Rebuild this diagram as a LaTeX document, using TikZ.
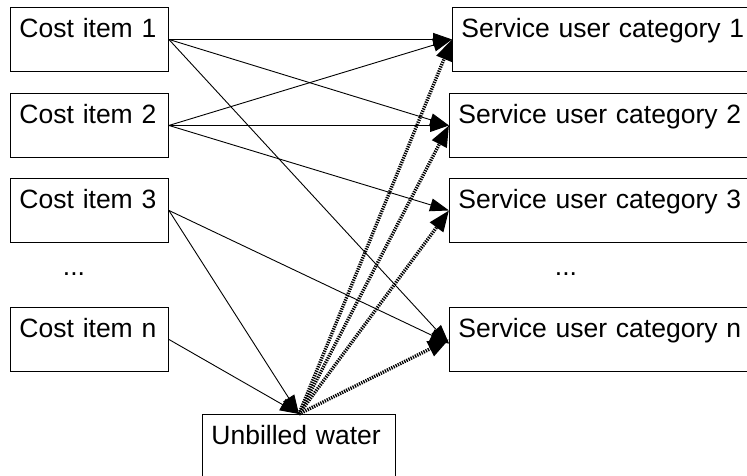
\documentclass[tikz,border=0pt]{standalone}
\usepackage{fontspec}
\setmainfont{Liberation Sans}
\usepackage{tikz}
\usetikzlibrary{arrows.meta}
\tikzset{
    itembox/.style={
        draw=black,
        line width=0.9pt,
        rectangle,
        anchor=north west,
        align=left,
        inner xsep=9pt,
        inner ysep=11pt,
        text height=19pt,
        text depth=23pt,
        font=\fontsize{26.5}{30}\selectfont
    },
    costbox/.style={
        itembox,
        text width=140pt
    },
    userbox/.style={
        itembox,
        text width=300pt
    },
    waterbox/.style={
        itembox,
        text width=175pt
    },
    gap/.style={
        inner sep=0pt,
        font=\fontsize{26.5}{30}\selectfont
    },
    costlink/.style={
        line width=0.9pt,
        -{Triangle[length=19pt,width=13pt]}
    },
    waterlink/.style={
        line width=3.4pt,
        dash pattern=on 1.3pt off 1.1pt,
        -{Triangle[length=21pt,width=16pt]}
    }
}

\begin{document}
\begin{tikzpicture}[x=1pt,y=-1pt]
            % Help lines :
            % \draw [help lines] (0,0) grid (747,476);
            \useasboundingbox (0,0) rectangle (747,476);

            % Cost items
            \node (cost1) [costbox] at (10,7) {Cost item 1};
            \node (cost2) [costbox] at (10,93) {Cost item 2};
            \node (cost3) [costbox] at (10,178) {Cost item 3};
            \node (dotsL) [gap] at (74,274) {...};
            \node (costn) [costbox] at (10,307) {Cost item n};

            % Service user categories
            \node (user1) [userbox] at (452,7) {Service user category 1};
            \node (user2) [userbox] at (449,93) {Service user category 2};
            \node (user3) [userbox] at (449,178) {Service user category 3};
            \node (dotsR) [gap] at (566,274) {...};
            \node (usern) [userbox] at (449,307) {Service user category n};

            % Unbilled water
            \node (water) [waterbox] at (202,414) {Unbilled water};

            % Edges
            \path [costlink]
                % Out of cost1
                (cost1.east) edge (user1.west)
                (cost1.east) edge (user2.west)
                (cost1.east) edge ([yshift=-4pt]usern.west)

                % Out of cost2
                (cost2.east) edge (user1.west)
                (cost2.east) edge (user2.west)
                (cost2.east) edge (user3.west)

                % Out of cost3
                (cost3.east) edge ([yshift=-4pt]usern.west)
                (cost3.east) edge (water.north)

                % Out of costn
                (costn.east) edge (water.north)
            ;
            \path [waterlink]
                % Out of water
                (water.north) edge (user1.west)
                (water.north) edge (user2.west)
                (water.north) edge (user3.west)
                (water.north) edge (usern.west)
            ;
        \end{tikzpicture}
\end{document}
